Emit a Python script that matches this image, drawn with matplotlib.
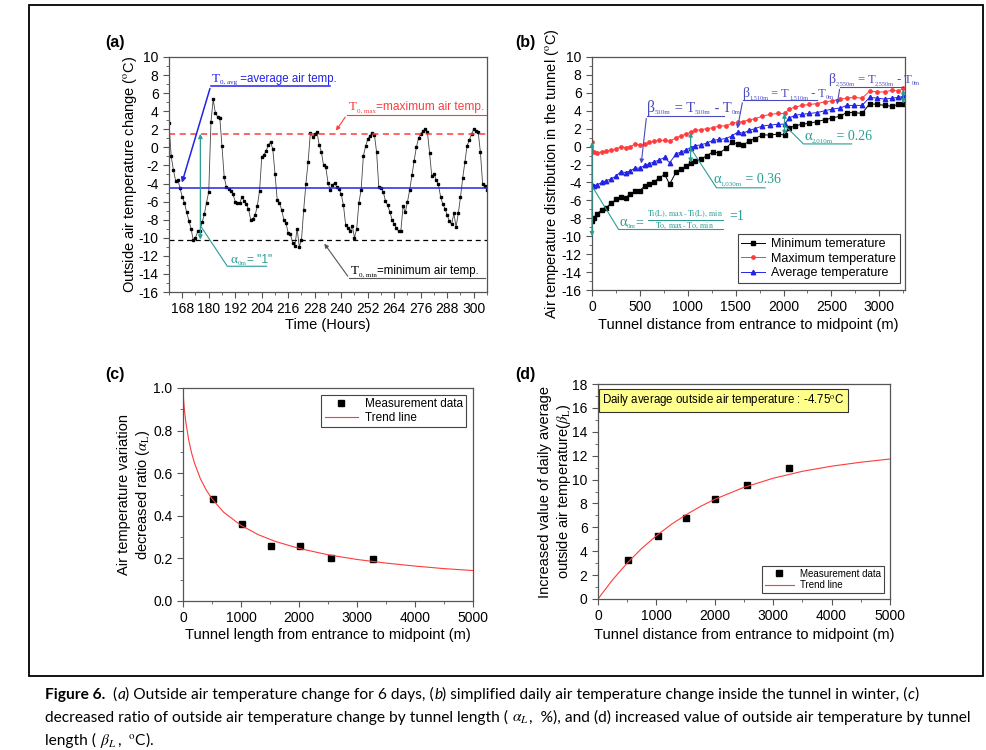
import numpy as np
import matplotlib
matplotlib.use('Agg')
import matplotlib.pyplot as plt
import matplotlib.transforms as mtransforms
from matplotlib.ticker import MultipleLocator, FormatStrFormatter
from matplotlib.patches import Rectangle

plt.rcParams['font.family'] = ['Liberation Sans', 'DejaVu Sans']
plt.rcParams['mathtext.fontset'] = 'stix'
plt.rcParams['axes.unicode_minus'] = False

# ---------- (a) outside air temperature, hourly from 162 h ----------
hour_start = 162
outside_temp = [
    2.7, -1.0, -2.5, -3.7, -3.6, -4.5, -5.5, -6.1, -7.2, -8.1, -9.0, -10.3, -10.0, -9.3, -9.2,
    -8.3, -7.4, -6.1, -4.9, 2.8,
    5.3, 3.8, 3.4, 3.3, 0.1, -3.3, -4.4, -4.6, -4.8, -5.2, -6.0, -6.1, -6.2, -5.5, -5.9, -6.3,
    -6.8, -8.0, -7.9, -7.5, -6.5, -4.8, -1.1, -0.8, -0.4, 0.3, 0.6,
    -0.2, -2.9, -5.8, -6.1, -6.9, -8.0, -8.4, -9.5, -9.6, -10.6, -10.9, -9.0, -11.0, -10.2, -6.9,
    -4.0, -1.6, 1.6, 1.2, 1.5, 1.7,
    0.3, -0.5, -2.0, -2.2, -3.9, -4.7, -4.2, -3.9, -4.4, -4.6, -5.2, -6.4, -8.6, -8.9, -9.3,
    -8.7, -10.0, -9.0, -6.1, -4.7, -1.0, 0.1, 0.9, 1.3, 1.6, 1.4,
    -0.5, -4.4, -4.5, -4.9, -5.9, -6.4, -7.1, -8.0, -8.5, -8.9, -9.3, -9.2, -6.5, -7.2, -6.0,
    -4.7, -3.1, -1.5, 0.0, 1.0, 1.5, 1.8, 2.0, 1.7,
    -0.6, -3.2, -2.9, -3.6, -4.1, -5.5, -6.3, -6.8, -7.5, -8.2, -8.5, -7.3, -8.8, -7.3, -5.5,
    -3.4, -1.6, 0.2, 0.8, 1.5, 2.0, 1.8, 1.7, -0.5, -4.0, -4.3, -4.7,
]
t0_max = 1.5
t0_avg = -4.5
t0_min = -10.2

# ---------- (b) temperature inside the tunnel ----------
dist_b = [0, 20, 50, 100, 150, 200, 250, 300, 350, 400, 450, 500, 550, 600, 650, 700, 760, 810,
          880, 930, 980, 1030, 1080, 1140, 1200, 1260, 1330, 1400, 1460, 1520, 1580, 1640, 1700,
          1780, 1860, 1940, 2010, 2060, 2120, 2190, 2270, 2350, 2430, 2510, 2590, 2660, 2740,
          2820, 2900, 2980, 3060, 3130, 3200, 3250]
t_min_b = [-8.3, -8.0, -7.5, -7.1, -6.8, -6.3, -5.9, -5.6, -5.7, -5.3, -5.0, -4.9, -4.4, -4.2,
           -3.9, -3.5, -3.1, -4.2, -2.8, -2.5, -2.2, -1.8, -1.6, -1.4, -1.0, -0.6, -0.7, -0.2,
           0.5, 0.3, 0.2, 0.6, 0.9, 1.3, 1.3, 1.4, 1.3, 2.1, 2.3, 2.5, 2.6, 2.8, 3.0, 3.2, 3.4,
           3.8, 3.8, 3.7, 4.8, 4.7, 4.6, 4.5, 4.7, 4.8]
t_max_b = [0.5, -0.6, -0.7, -0.6, -0.5, -0.4, -0.3, 0.0, -0.1, 0.0, 0.3, 0.2, 0.3, 0.5, 0.6,
           0.7, 0.7, 0.6, 1.0, 1.2, 1.4, 1.6, 1.8, 1.9, 2.0, 2.1, 2.3, 2.3, 2.6, 2.7, 2.8, 3.0,
           3.1, 3.4, 3.6, 3.7, 3.7, 4.2, 4.4, 4.6, 4.7, 4.8, 5.0, 5.1, 5.3, 5.4, 5.5, 5.4, 6.2,
           6.1, 6.1, 6.3, 6.2, 6.5]
t_avg_b = [-4.3, -4.4, -4.3, -4.0, -3.8, -3.6, -3.3, -2.8, -2.9, -2.7, -2.4, -2.4, -2.1, -1.9,
           -1.7, -1.5, -1.2, -1.8, -0.8, -0.6, -0.4, -0.1, 0.1, 0.2, 0.4, 0.7, 0.8, 0.9, 1.2,
           1.6, 1.5, 1.8, 2.0, 2.3, 2.4, 2.5, 2.5, 3.2, 3.5, 3.6, 3.7, 3.8, 4.0, 4.2, 4.3, 4.6,
           4.6, 4.6, 5.5, 5.4, 5.3, 5.4, 5.5, 5.6]

# ---------- (c) / (d) ratio and increase by tunnel length ----------
len_meas = [510, 1020, 1510, 2010, 2550, 3270]
alpha_meas = [0.48, 0.36, 0.26, 0.26, 0.20, 0.195]
beta_meas = [3.3, 5.3, 6.75, 8.4, 9.55, 10.95]

alpha_trend_x = [0, 10, 25, 50, 100, 150, 200, 300, 400, 500, 700, 1000, 1300, 1600, 2000,
                 2500, 3000, 3500, 4000, 4500, 5000]
alpha_trend = [1.0, 0.944, 0.896, 0.837, 0.753, 0.693, 0.646, 0.574, 0.521, 0.48, 0.417, 0.355,
               0.311, 0.279, 0.247, 0.217, 0.195, 0.178, 0.164, 0.152, 0.143]
beta_trend_x = [0, 250, 500, 750, 1000, 1250, 1500, 1750, 2000, 2500, 3000, 3500, 4000, 4500, 5000]
beta_trend = [0.0, 1.61, 3.01, 4.24, 5.30, 6.23, 7.03, 7.74, 8.35, 9.35, 10.11, 10.69, 11.12,
              11.45, 11.72]

blue = '#2323e6'
red = '#ff3b3b'
teal = '#2a9d96'
slate = '#4b4bc0'
spine_c = '#555555'
SERIF = 'Liberation Serif'
SANS = 'Liberation Sans'

W, H = 986, 750
fig = plt.figure(figsize=(W / 100, H / 100), dpi=100)
renderer = fig.canvas.get_renderer()


def px_axes(l, t, r, b):
    return fig.add_axes([l / W, 1 - b / H, (r - l) / W, (b - t) / H])


def style_axes(ax):
    for s in ax.spines.values():
        s.set_color(spine_c)
        s.set_linewidth(0.9)
    ax.tick_params(which='both', direction='out', top=False, right=False, labelsize=10,
                   color=spine_c)
    ax.tick_params(which='major', length=4)
    ax.tick_params(which='minor', length=2)


def rich(ax, x, y, parts, color):
    # parts: (text, fontsize, vertical shift in px, family); laid out left to right
    dx = 0.0
    for s, size, dy, fam in parts:
        tr = mtransforms.offset_copy(ax.transData, fig=fig, x=dx, y=dy, units='dots')
        t = ax.text(x, y, s, transform=tr, fontsize=size, color=color, family=fam,
                    va='baseline', ha='left')
        dx += t.get_window_extent(renderer).width


def sym_sub(sym, sub, rest, big=10, small=5, rest_size=None, rest_fam=SERIF):
    parts = [(sym, big, 0, SERIF), (sub, small, -2, SERIF)]
    if rest:
        parts.append((rest, rest_size or big, 0, rest_fam))
    return parts


def beta_eq(sub, big, small):
    return [('\u03b2', big + 1, 0, SERIF), (sub, small, -2, SERIF), (' = T', big, 0, SERIF),
            (sub, small, -2, SERIF), (' - T', big, 0, SERIF), ('0m', small, -2, SERIF)]


# ===== (a) =====
ax = px_axes(169, 57, 487, 292)
style_axes(ax)
hours = hour_start + np.arange(len(outside_temp))
ax.plot(hours, outside_temp, '-s', color='#444444', lw=0.6, ms=1.9, mfc='black', mec='black')
ax.axhline(t0_max, color=red, ls='--', lw=1.1, dashes=(4, 3))
ax.axhline(t0_avg, color=blue, lw=1.1)
ax.axhline(t0_min, color='black', ls='--', lw=0.9, dashes=(4, 3))
ax.set_xlim(162, 306)
ax.set_ylim(-16, 10)
ax.xaxis.set_minor_locator(MultipleLocator(6))
ax.yaxis.set_major_locator(MultipleLocator(2))
ax.yaxis.set_minor_locator(MultipleLocator(1))
ax.set_xticks(np.arange(168, 301, 12))
ax.set_xlabel('Time (Hours)', fontsize=10.5, va='center')
ax.xaxis.set_label_coords(0.5, -0.142)
ax.set_ylabel(r'Outside air temperature change ($^{\mathrm{o}}$C)', fontsize=10.5, va='center')
ax.yaxis.set_label_coords(-0.124, 0.5)

# annotations (a)
ax.plot([180.9, 234.9], [6.8, 6.8], color=blue, lw=1.1)
ax.annotate('', xy=(167.5, -4.2), xytext=(180.9, 6.8),
            arrowprops=dict(arrowstyle='-|>', color=blue, lw=1.1, mutation_scale=7))
rich(ax, 181.3, 7.25, sym_sub('T', '0, avg', ' =average air temp.', 9.5, 5, 8.3, SANS), blue)
ax.plot([242.5, 306], [3.6, 3.6], color=red, lw=0.8)
ax.annotate('', xy=(236.9, 1.6), xytext=(242.5, 3.6),
            arrowprops=dict(arrowstyle='-|>', color=red, lw=0.8, mutation_scale=6))
rich(ax, 243.4, 4.1, sym_sub('T', '0, max', '=maximum air temp.', 9.5, 5, 8.6, SANS), red)
ax.annotate('', xy=(176.2, t0_max), xytext=(176.2, t0_min),
            arrowprops=dict(arrowstyle='<|-|>', color=teal, lw=0.9, mutation_scale=6,
                            shrinkA=0, shrinkB=0))
ax.plot([176.6, 188.4, 206.2], [-8.8, -13.15, -13.15], color=teal, lw=0.8)
rich(ax, 190.0, -12.75, sym_sub('\u03b1', '0m', '= "1"', 9.5, 5, 8.6, SANS), teal)
ax.plot([243.7, 305.3], [-14.5, -14.5], color='#555555', lw=0.8)
ax.annotate('', xy=(231.6, -10.4), xytext=(243.7, -14.5),
            arrowprops=dict(arrowstyle='-|>', color='#555555', lw=0.8, mutation_scale=6))
rich(ax, 244.3, -14.0, sym_sub('T', '0, min', '=minimum air temp.', 9.5, 5, 8.3, SANS), 'black')

# ===== (b) =====
ax = px_axes(592, 57, 905, 290)
style_axes(ax)
ax.plot(dist_b, t_min_b, '-s', color='black', lw=0.7, ms=2.6, label='Minimum temerature')
ax.plot(dist_b, t_max_b, '-o', color=red, lw=0.7, ms=2.4, label='Maximum temperature')
ax.plot(dist_b, t_avg_b, '-^', color=blue, lw=0.7, ms=3.2, label='Average temperature')
ax.set_xlim(0, 3268)
ax.set_ylim(-16, 10)
ax.xaxis.set_major_locator(MultipleLocator(500))
ax.xaxis.set_minor_locator(MultipleLocator(250))
ax.yaxis.set_major_locator(MultipleLocator(2))
ax.yaxis.set_minor_locator(MultipleLocator(1))
ax.set_xlabel('Tunnel distance from entrance to midpoint (m)', fontsize=10.5, va='center')
ax.xaxis.set_label_coords(0.5, -0.15)
ax.set_ylabel(r'Air temperature distribution in the tunnel ($^{\mathrm{o}}$C)', fontsize=10.5,
              va='center')
ax.yaxis.set_label_coords(-0.128, 0.5)
leg = ax.legend(loc='lower right', bbox_to_anchor=(0.992, 0.02), fontsize=9, fancybox=False,
                edgecolor='#444444', framealpha=1, handlelength=1.9, borderpad=0.3,
                labelspacing=0.2, handletextpad=0.5, borderaxespad=0.2)
leg.get_frame().set_linewidth(0.8)

# beta annotations
ax.plot([570, 1380], [3.45, 3.45], color=slate, lw=0.8)
ax.annotate('', xy=(511, -2.2), xytext=(570, 3.45),
            arrowprops=dict(arrowstyle='-|>', color=slate, lw=0.8, mutation_scale=6))
rich(ax, 575, 3.85, beta_eq('510m', 10.5, 5), slate)
ax.plot([1575, 2346], [5.2, 5.2], color=slate, lw=0.8)
ax.annotate('', xy=(1512, 1.7), xytext=(1575, 5.2),
            arrowprops=dict(arrowstyle='-|>', color=slate, lw=0.8, mutation_scale=6))
rich(ax, 1570, 5.55, beta_eq('1,510m', 9, 4.5), slate)
ax.plot([2590, 3250], [6.7, 6.7], color=slate, lw=0.8)
ax.annotate('', xy=(2555, 4.4), xytext=(2590, 6.7),
            arrowprops=dict(arrowstyle='-|>', color=slate, lw=0.8, mutation_scale=6))
rich(ax, 2470, 7.05, beta_eq('2,550m', 9, 4.5), slate)
# alpha annotations
for xa, ya, yb in [(0, 0.5, -10.0), (1030, 1.6, -1.8), (2010, 3.7, 1.3), (3250, 6.4, 4.8)]:
    ax.annotate('', xy=(xa, ya), xytext=(xa, yb),
                arrowprops=dict(arrowstyle='<|-|>', color=teal, lw=0.9, mutation_scale=6,
                                shrinkA=0, shrinkB=0), annotation_clip=False)
ax.plot([1025, 1300, 1807], [-0.1, -4.6, -4.6], color=teal, lw=0.8)
rich(ax, 1265, -4.1, sym_sub('\u03b1', '1,030m', ' = 0.36', 10.5, 5, 10), teal)
ax.plot([2010, 2207, 2711], [2.4, 0.3, 0.3], color=teal, lw=0.8)
rich(ax, 2215, 0.75, sym_sub('\u03b1', '2,010m', ' = 0.26', 10.5, 5, 10), teal)
ax.plot([0, 278, 1373], [-4.4, -9.25, -9.25], color=teal, lw=0.8)
rich(ax, 285, -8.85, sym_sub('\u03b1', '0m', '=', 10.5, 5, 10), teal)
ax.text(975, -8.2,
        r'$\frac{\mathrm{Ti(L),\,max\,\text{-}\,Ti(L),\,min}}{\mathrm{To,\,max\,\text{-}\,To,\,min}}$',
        color=teal, fontsize=8.3, ha='center', va='center')
ax.text(1430, -7.85, '=1', color=teal, fontsize=10, va='center', family=SERIF)

# ===== (c) =====
ax = px_axes(183, 388, 473, 601)
style_axes(ax)
ax.plot(len_meas, alpha_meas, 's', color='black', ms=4.5, label='Measurement data')
ax.plot(alpha_trend_x, alpha_trend, '-', color=red, lw=0.8, label='Trend line')
ax.set_xlim(0, 5000)
ax.set_ylim(0, 1.0)
ax.xaxis.set_major_locator(MultipleLocator(1000))
ax.xaxis.set_minor_locator(MultipleLocator(500))
ax.yaxis.set_major_locator(MultipleLocator(0.2))
ax.yaxis.set_minor_locator(MultipleLocator(0.1))
ax.yaxis.set_major_formatter(FormatStrFormatter('%.1f'))
ax.set_xlabel('Tunnel length from entrance to midpoint (m)', fontsize=10.5, va='center')
ax.xaxis.set_label_coords(0.5, -0.16)
ax.set_ylabel('Air temperature variation\n' + r'decreased ratio ($\alpha_{\mathrm{L}}$)',
              fontsize=10.5, va='center', linespacing=1.25)
ax.yaxis.set_label_coords(-0.168, 0.5)
leg = ax.legend(loc='upper right', bbox_to_anchor=(0.997, 0.997), fontsize=8.5, fancybox=False,
                edgecolor='#444444', framealpha=1, handlelength=2.8, borderpad=0.3,
                labelspacing=0.15, handletextpad=0.6)
leg.get_frame().set_linewidth(0.8)

# ===== (d) =====
ax = px_axes(598, 384, 890, 599)
style_axes(ax)
ax.plot(len_meas, beta_meas, 's', color='black', ms=4.5, label='Measurement data')
ax.plot(beta_trend_x, beta_trend, '-', color=red, lw=0.8, label='Trend line')
ax.set_xlim(0, 5000)
ax.set_ylim(0, 18)
ax.xaxis.set_major_locator(MultipleLocator(1000))
ax.xaxis.set_minor_locator(MultipleLocator(500))
ax.yaxis.set_major_locator(MultipleLocator(2))
ax.yaxis.set_minor_locator(MultipleLocator(1))
ax.set_xlabel('Tunnel distance from entrance to midpoint (m)', fontsize=10.5, va='center')
ax.xaxis.set_label_coords(0.5, -0.167)
ax.set_ylabel('Increased value of daily average\n' + r'outside air temperature($\beta_{\mathrm{L}}$)',
              fontsize=10.5, va='center', linespacing=1.25)
ax.yaxis.set_label_coords(-0.145, 0.5)
leg = ax.legend(loc='lower right', bbox_to_anchor=(0.995, 0.005), fontsize=7, fancybox=False,
                edgecolor='#444444', framealpha=1, handlelength=3.0, borderpad=0.3,
                labelspacing=0.15, handletextpad=0.6)
leg.get_frame().set_linewidth(0.8)
ax.text(0.014, 0.962, r'Daily average outside air temperature : -4.75$^{\mathrm{o}}$C',
        transform=ax.transAxes, fontsize=8.3, va='top', ha='left',
        bbox=dict(boxstyle='square,pad=0.3', fc='#ffff8c', ec='#333333', lw=0.8))

# panel letters
for lab, x, y in [('(a)', 115, 42), ('(b)', 525, 42), ('(c)', 115, 375), ('(d)', 525, 375)]:
    fig.text(x / W, 1 - y / H, lab, fontsize=11.5, fontweight='bold', ha='center', va='center')

# border
fig.patches.append(Rectangle((29 / W, 1 - 676 / H), (983 - 29) / W, (676 - 5) / H,
                             transform=fig.transFigure, fill=False, lw=1.3, ec='black'))


# caption
def caption_line(pieces, y_px, size=11.2):
    x = 45 / W
    for s, kind in pieces:
        kw = {}
        if kind == 'b':
            kw['fontweight'] = 'bold'
        elif kind == 'i':
            kw['fontstyle'] = 'italic'
        t = fig.text(x, 1 - y_px / H, s, fontsize=size, family=['Lato', 'DejaVu Sans'],
                     va='baseline', ha='left', **kw)
        x += t.get_window_extent(renderer).width / W


caption_line([('Figure 6.', 'b'), ('  (', 'n'), ('a', 'i'),
              (') Outside air temperature change for 6 days, (', 'n'), ('b', 'i'),
              (') simplified daily air temperature change inside the tunnel in winter, (', 'n'),
              ('c', 'i'), (')', 'n')], 699)
caption_line([('decreased ratio of outside air temperature change by tunnel length ( ', 'n'),
              (r'$\alpha_L$', 'n'),
              (',  %), and (d) increased value of outside air temperature by tunnel', 'n')], 722)
caption_line([('length ( ', 'n'), (r'$\beta_L$', 'n'), (r',  $^{\mathrm{o}}$C).', 'n')], 745)

fig.savefig('out.png', dpi=100)
